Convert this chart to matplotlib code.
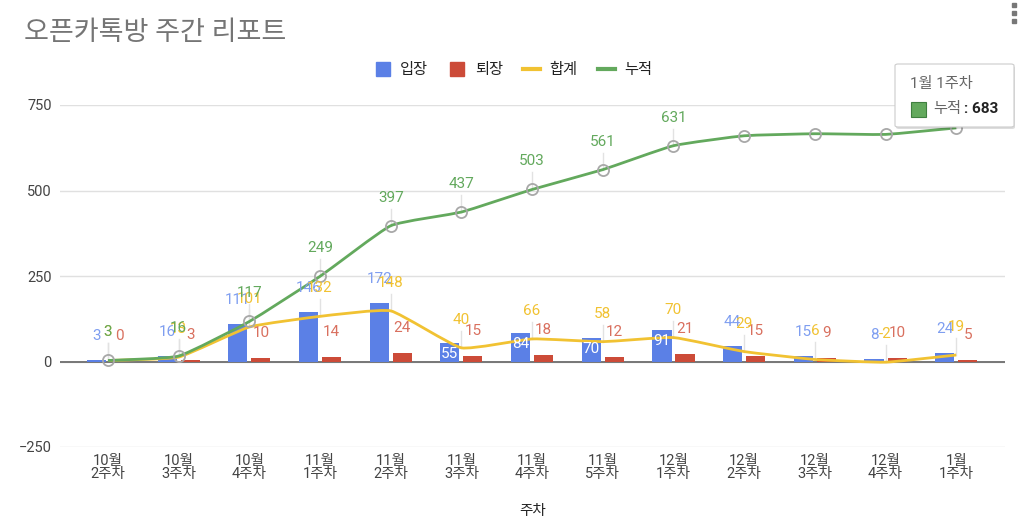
import numpy as np
import matplotlib
matplotlib.use("Agg")
import matplotlib.pyplot as plt
from matplotlib.path import Path
from matplotlib.patches import PathPatch, FancyBboxPatch, Rectangle
from matplotlib.lines import Line2D

# weekly data
weeks = ["10월\n2주차", "10월\n3주차", "10월\n4주차", "11월\n1주차", "11월\n2주차",
         "11월\n3주차", "11월\n4주차", "11월\n5주차", "12월\n1주차", "12월\n2주차",
         "12월\n3주차", "12월\n4주차", "1월\n1주차"]
entered = [3, 16, 111, 146, 172, 55, 84, 70, 91, 44, 15, 8, 24]
left = [0, 3, 10, 14, 24, 15, 18, 12, 21, 15, 9, 10, 5]
net = [3, 13, 101, 132, 148, 40, 66, 58, 70, 29, 6, -2, 19]
total = [3, 16, 117, 249, 397, 437, 503, 561, 631, 660, 666, 664, 683]
# the chart hides these cumulative labels (they collide near the top)
total_shown = [True] * 9 + [False, False, False, True]
yticks = [-250, 0, 250, 500, 750]

FONT = ["Roboto", "Noto Sans CJK KR", "DejaVu Sans"]
plt.rcParams["font.family"] = FONT

C_BLUE = "#5b80e6"
C_RED = "#cc4b38"
C_YEL = "#f1c232"
C_GRN = "#63a95d"
L_BLUE = "#7f9ef0"
L_RED = "#d9705f"


def smooth_path(xs, ys, k=0.07):
    # lightly rounded line through the points, as cubic bezier segments
    pts = np.column_stack([xs, ys]).astype(float)
    n = len(pts)
    verts = [pts[0]]
    codes = [Path.MOVETO]
    for i in range(n - 1):
        p0 = pts[max(i - 1, 0)]
        p1 = pts[i]
        p2 = pts[i + 1]
        p3 = pts[min(i + 2, n - 1)]
        verts += [p1 + (p2 - p0) * k, p2 - (p3 - p1) * k, p2]
        codes += [Path.CURVE4] * 3
    return Path(verts, codes)


fig = plt.figure(figsize=(10.24, 5.3), dpi=100)
ax = fig.add_axes([60 / 1024, 1 - 447 / 530, 945 / 1024, 342 / 530])

x = np.arange(len(weeks))
w = 0.27
off = 0.163

ax.bar(x - off, entered, width=w, color=C_BLUE, zorder=2)
ax.bar(x + off, left, width=w, color=C_RED, zorder=2)

ax.add_patch(PathPatch(smooth_path(x, net), fill=False, edgecolor=C_YEL, lw=2, zorder=3))
ax.add_patch(PathPatch(smooth_path(x, total), fill=False, edgecolor=C_GRN, lw=2, zorder=3))
ax.plot(x, total, ls="none", marker="o", ms=8, mfc="none", mec="#a8a8a8", mew=1.3, zorder=4)

# annotation stems for the line labels
stem = 17 * 250 / 85.5
for xi, yi in zip(x, net):
    ax.plot([xi, xi], [yi, yi + stem], color="#e2e2e2", lw=1, zorder=1)
for xi, yi, show in zip(x, total, total_shown):
    if show:
        ax.plot([xi, xi], [yi, yi + stem], color="#e2e2e2", lw=1, zorder=1)

lab = dict(textcoords="offset pixels", ha="center", va="center", fontsize=11, zorder=6)

inside = {55, 84, 70, 91}
for xi, v in zip(x, entered):
    if v in inside:
        ax.annotate(str(v), (xi - off, v), xytext=(0, -11), color="white", **lab)
    else:
        ax.annotate(str(v), (xi - off, v), xytext=(0, 24), color=L_BLUE, **lab)
for xi, v in zip(x, left):
    ax.annotate(str(v), (xi + off, v), xytext=(0, 25), color=L_RED, **lab)
for xi, v in zip(x, net):
    ax.annotate(str(v), (xi, v), xytext=(0, 28), color=C_YEL, **lab)
for xi, v, show in zip(x, total, total_shown):
    if show:
        ax.annotate(str(v), (xi, v), xytext=(0, 28), color=C_GRN, **lab)

ax.set_xlim(-0.679, 12.69)
ax.set_ylim(-250, 750)
ax.set_yticks(yticks)
ax.set_xticks(x)
ax.set_xticklabels(weeks, fontsize=10.5, color="#444444", linespacing=0.95)
ax.tick_params(axis="y", length=0, pad=6, labelsize=10.5, labelcolor="#444444")
ax.tick_params(axis="x", length=0, pad=5)
for s in ax.spines.values():
    s.set_visible(False)
for t in yticks:
    ax.axhline(t, color="#e0e0e0", lw=1, zorder=0)
ax.axhline(0, color="#777777", lw=1.4, zorder=1)
ax.set_xlabel("주차", fontsize=10.5, color="#222222", labelpad=16)

fig.text(24 / 1024, 1 - 32 / 530, "오픈카톡방 주간 리포트", fontsize=19.5,
         color="#757575", va="center", ha="left")

handles = [
    Line2D([], [], ls="none", marker="s", ms=10, color=C_BLUE),
    Line2D([], [], ls="none", marker="s", ms=10, color=C_RED),
    Line2D([], [], color=C_YEL, lw=3),
    Line2D([], [], color=C_GRN, lw=3),
]
fig.legend(handles, ["입장", "퇴장", "합계", "누적"], loc="center",
           bbox_to_anchor=(513 / 1024, 1 - 70 / 530), ncol=4, frameon=False,
           fontsize=11, handlelength=1.1, handletextpad=0.6, columnspacing=1.35,
           labelcolor="#222222")

# tooltip box
W, H = 1024, 530
bx, by, bw, bh = 895, 64, 119, 63
fig.patches.append(FancyBboxPatch(((bx + 1) / W, 1 - (by + bh + 2) / H), bw / W, bh / H,
                                  boxstyle="round,pad=0,rounding_size=0.003",
                                  transform=fig.transFigure, fc="#00000022", ec="none", zorder=9))
fig.patches.append(FancyBboxPatch((bx / W, 1 - (by + bh) / H), bw / W, bh / H,
                                  boxstyle="round,pad=0,rounding_size=0.003",
                                  transform=fig.transFigure, fc="white", ec="#cccccc",
                                  lw=0.8, zorder=10))
fig.text(910 / W, 1 - 84 / H, "1월 1주차", fontsize=11, color="#666666",
         va="center", zorder=11)
fig.patches.append(Rectangle((911 / W, 1 - 117 / H), 15 / W, 15 / H,
                             transform=fig.transFigure, fc=C_GRN, ec="#3f7f3f",
                             lw=0.8, zorder=11))
fig.text(933 / W, 1 - 109 / H, "누적", fontsize=11, color="#666666", va="center", zorder=11)
fig.text(964 / W, 1 - 109 / H, ": 683", fontsize=11, color="#222222",
         fontweight="bold", va="center", zorder=11)

# menu dots
fig.add_artist(Line2D([1014 / W] * 3, [1 - 5 / H, 1 - 13 / H, 1 - 21 / H], ls="none",
                      marker="s", ms=3, color="#777777", transform=fig.transFigure))

fig.savefig("out.png", dpi=100, facecolor="white")
